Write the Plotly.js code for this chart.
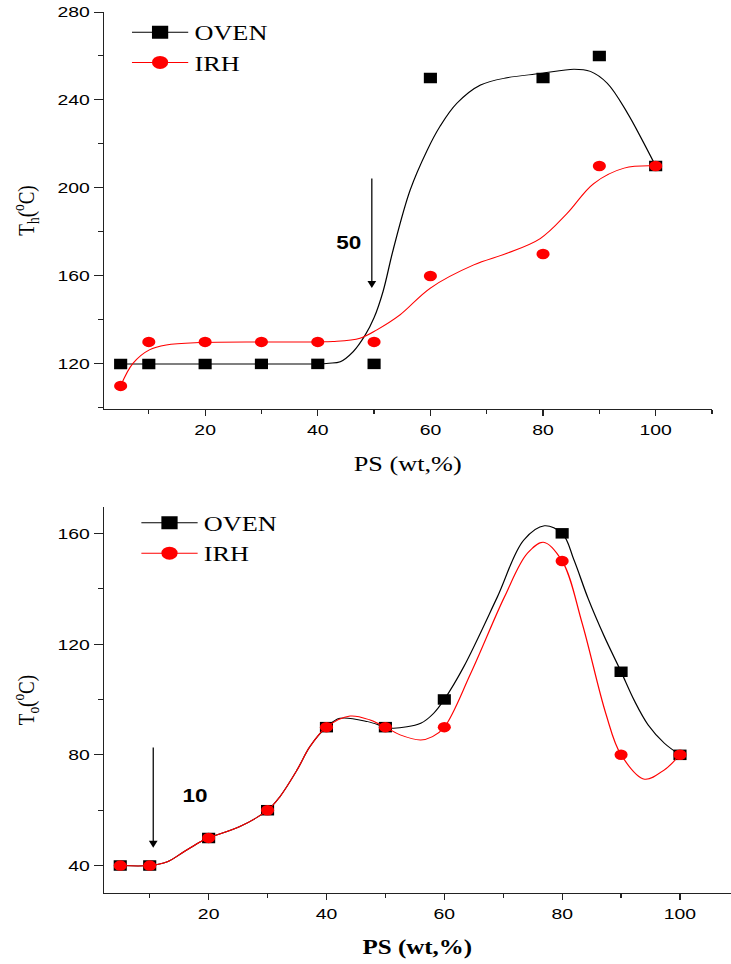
<!DOCTYPE html>
<html>
<head>
<meta charset="utf-8">
<script src="https://cdn.plot.ly/plotly-3.0.1.min.js"></script>
<style>
  html, body { margin: 0; padding: 0; background: #fff; overflow: hidden; }
  #chart { width: 585px; height: 964px; transform: scaleX(1.25); transform-origin: 0 0; }
</style>
</head>
<body>
<div id="chart"></div>
<script>
// PS content (wt,%) of the blends
const PS_WT = [5, 10, 20, 30, 40, 50, 60, 80, 90, 100];

// Healing temperature T_h (°C)
const TH_OVEN = [120, 120, 120, 120, 120, 120, 250, 250, 260, 210];
const TH_IRH  = [110, 130, 130, 130, 130, 130, 160, 170, 210, 210];

// Onset temperature T_o (°C)
const TO_OVEN = [40, 40, 50, 60, 90, 90, 100, 160, 110, 80];
const TO_IRH  = [40, 40, 50, 60, 90, 90, 90, 150, 80, 80];

// Smoothed trend curves (sampled)
const TH_OVEN_FIT_X = [5, 10, 20, 30, 40, 42, 44, 46.3, 48.4, 50, 51.6, 53.4, 56.4, 59.4, 61.7, 64.7, 68.9, 73.6, 79.5, 85.5, 88.4, 91.4, 95, 97.3, 100];
const TH_OVEN_FIT_Y = [120, 120, 120, 120, 120, 120.3, 121, 125.6, 133, 141, 153, 172, 199, 217, 228, 238.5, 246.8, 250.1, 252, 254, 253, 247.6, 234, 223.3, 210];
const TH_IRH_FIT_X = [5, 7.2, 10.1, 13.1, 19, 30, 40, 42.7, 47.5, 50.5, 54.6, 60, 67.7, 73.6, 79.5, 84.3, 89, 94.4, 100];
const TH_IRH_FIT_Y = [110, 120.3, 126.4, 128.6, 129.7, 130, 130, 130.2, 131.7, 135.5, 142.3, 154.5, 165, 170.3, 177, 188.5, 202, 209, 210];

const TO_OVEN_FIT_X = [5, 10, 13, 15.8, 18.7, 20, 25.3, 30, 32.1, 35, 37.2, 40, 42.3, 47, 50, 51.4, 56, 58.2, 60, 63.3, 69, 73.5, 77, 80, 82, 84.4, 87.1, 90, 92.2, 94.6, 97.35, 100];
const TO_OVEN_FIT_Y = [40, 40, 41.4, 45, 48.7, 50, 54.1, 60, 64.9, 74.5, 83, 90, 93.2, 92, 90, 89.6, 91.4, 95, 100, 111.8, 137, 157.6, 162.7, 160, 150.4, 136.5, 123, 110, 99.8, 90.8, 84.2, 80];
const TO_IRH_FIT_X = [5, 10, 13, 15.8, 18.7, 20, 25.3, 30, 32.1, 35, 37.2, 40, 44, 47.4, 50, 52.5, 56, 58, 60, 64.5, 70.2, 74.1, 76.8, 80, 83.4, 87.4, 90, 94, 97.3, 100];
const TO_IRH_FIT_Y = [40, 40, 41.4, 45, 48.7, 50, 54.1, 60, 64.9, 74.5, 83, 90, 94, 92.6, 90, 87.2, 85.4, 86.6, 90, 109.5, 137, 152.8, 156.8, 150, 127.5, 95, 80, 71.2, 74.5, 80];

const SERIES_NAMES = ['OVEN', 'IRH'];

const BLACK = '#000000';
const RED = '#ff0000';
const AXIS = '#222222';
const SERIF = 'Liberation Serif, Times New Roman, serif';
const SANS = 'Liberation Sans, Arial, sans-serif';

function curve(x, y, color, xa, ya) {
  return { x: x, y: y, xaxis: xa, yaxis: ya, mode: 'lines', showlegend: false,
           line: { color: color, width: 1, shape: 'spline', smoothing: 1 }, hoverinfo: 'skip' };
}
function points(y, color, symbol, size, xa, ya) {
  return { x: PS_WT, y: y, xaxis: xa, yaxis: ya, mode: 'markers', showlegend: false,
           marker: { color: color, symbol: symbol, size: size, line: { width: 0 } } };
}
// legend-only entries (line + marker swatch)
function key(name, color, symbol, legend) {
  const top = legend === 'legend';
  return { x: [null], y: [null], xaxis: top ? 'x' : 'x2', yaxis: top ? 'y' : 'y2',
           name: name, legend: legend, mode: 'lines+markers',
           line: { color: color, width: 1 }, marker: { color: color, symbol: symbol, size: 13 } };
}

const traces = [
  curve(TH_OVEN_FIT_X, TH_OVEN_FIT_Y, BLACK, 'x', 'y'),
  points(TH_OVEN, BLACK, 'square', 10.5, 'x', 'y'),
  curve(TH_IRH_FIT_X, TH_IRH_FIT_Y, RED, 'x', 'y'),
  points(TH_IRH, RED, 'circle', 10.5, 'x', 'y'),
  curve(TO_OVEN_FIT_X, TO_OVEN_FIT_Y, BLACK, 'x2', 'y2'),
  points(TO_OVEN, BLACK, 'square', 10.5, 'x2', 'y2'),
  curve(TO_IRH_FIT_X, TO_IRH_FIT_Y, RED, 'x2', 'y2'),
  points(TO_IRH, RED, 'circle', 10.5, 'x2', 'y2'),
  key(SERIES_NAMES[0], BLACK, 'square', 'legend'),
  key(SERIES_NAMES[1], RED, 'circle', 'legend'),
  key(SERIES_NAMES[0], BLACK, 'square', 'legend2'),
  key(SERIES_NAMES[1], RED, 'circle', 'legend2')
];

const axisBase = {
  showline: true, linecolor: AXIS, linewidth: 1,
  ticks: 'outside', ticklen: 7, tickwidth: 1, tickcolor: AXIS,
  showgrid: false, zeroline: false, tickmode: 'linear', tick0: 0,
  tickfont: { family: SANS, size: 15.5, color: '#000' }
};
const xMinor = { dtick: 10, ticks: 'outside', ticklen: 4, tickcolor: AXIS, showgrid: false };
const yMinor = { dtick: 20, ticks: 'outside', ticklen: 4, tickcolor: AXIS, showgrid: false };

const layout = {
  width: 585, height: 964,
  margin: { l: 83.4, r: 0, t: 12, b: 71 },
  paper_bgcolor: '#fff', plot_bgcolor: '#fff',
  xaxis: Object.assign({}, axisBase, {
    domain: [0, 0.9693], range: [2, 110], anchor: 'y', dtick: 20, ticklen: 6, minor: xMinor
  }),
  yaxis: Object.assign({}, axisBase, {
    domain: [0.5494, 1], range: [99.5, 280], anchor: 'x', dtick: 40, minor: yMinor,
    title: { text: 'T<sub>h</sub>(<sup>o</sup>C)', font: { family: SERIF, size: 19, color: '#000' }, standoff: 13 }
  }),
  xaxis2: Object.assign({}, axisBase, {
    domain: [0, 1], range: [2.2, 108.7], anchor: 'y2', dtick: 20, ticklen: 6, minor: xMinor
  }),
  yaxis2: Object.assign({}, axisBase, {
    domain: [0, 0.4381], range: [30.1, 169.5], anchor: 'x2', dtick: 40, minor: yMinor,
    title: { text: 'T<sub>o</sub>(<sup>o</sup>C)', font: { family: SERIF, size: 19, color: '#000' }, standoff: 13 }
  }),
  legend: {
    x: 0.035, y: 1.0, xanchor: 'left', yanchor: 'top', itemwidth: 45,
    bgcolor: 'rgba(0,0,0,0)', font: { family: SERIF, size: 21, color: '#000' }, tracegroupgap: 0
  },
  legend2: {
    x: 0.05, y: 0.443, xanchor: 'left', yanchor: 'top', itemwidth: 45,
    bgcolor: 'rgba(0,0,0,0)', font: { family: SERIF, size: 21, color: '#000' }, tracegroupgap: 0
  },
  annotations: [
    // x-axis titles
    { xref: 'x domain', yref: 'y domain', x: 0.5, y: -0.1385, yanchor: 'middle', showarrow: false,
      text: 'PS (wt,%)', font: { family: SERIF, size: 21, color: '#000' } },
    { xref: 'x2 domain', yref: 'y2 domain', x: 0.5, y: -0.14, yanchor: 'middle', showarrow: false,
      text: '<b>PS (wt,%)</b>', font: { family: SERIF, size: 20, color: '#000' } },
    // composition markers
    { xref: 'x', yref: 'y', axref: 'x', ayref: 'y', x: 49.6, y: 154.5, ax: 49.6, ay: 205,
      text: '', showarrow: true, arrowhead: 2, arrowsize: 1.4, arrowwidth: 1, arrowcolor: '#000' },
    { xref: 'x', yref: 'y', x: 45.4, y: 175, text: '<b>50</b>', showarrow: false,
      font: { family: SANS, size: 18, color: '#000' } },
    { xref: 'x2', yref: 'y2', axref: 'x2', ayref: 'y2', x: 10.6, y: 46.4, ax: 10.6, ay: 83.2,
      text: '', showarrow: true, arrowhead: 2, arrowsize: 1.4, arrowwidth: 1, arrowcolor: '#000' },
    { xref: 'x2', yref: 'y2', x: 17.6, y: 65.2, text: '<b>10</b>', showarrow: false,
      font: { family: SANS, size: 18, color: '#000' } }
  ]
};

Plotly.newPlot('chart', traces, layout, { displayModeBar: false, staticPlot: true });
</script>
</body>
</html>
